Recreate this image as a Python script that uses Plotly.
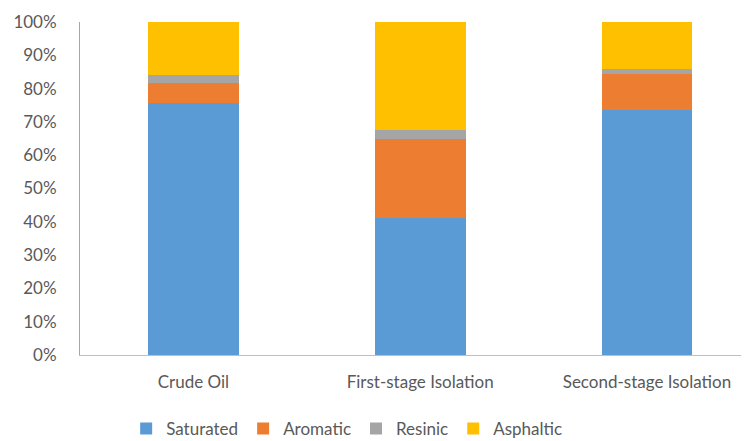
import plotly.graph_objects as go

categories = ["Crude Oil", "First-stage Isolation", "Second-stage Isolation"]
saturated = [75.7, 41.2, 73.5]
aromatic = [6.0, 23.7, 11.0]
resinic = [2.4, 2.6, 1.4]
asphaltic = [15.9, 32.5, 14.1]
series_names = ["Saturated", "Aromatic", "Resinic", "Asphaltic"]
colors = ["#5B9BD5", "#ED7D31", "#A5A5A5", "#FFC000"]
y_ticks = [0, 10, 20, 30, 40, 50, 60, 70, 80, 90, 100]

fig = go.Figure()
for name, vals, c in zip(series_names, [saturated, aromatic, resinic, asphaltic], colors):
    fig.add_trace(go.Bar(x=categories, y=vals, name=name, marker_color=c,
                         marker_line_width=0))

# page body has an 8px margin, so the figure is sized/offset to compensate
font = dict(family="Lato, 'Open Sans', sans-serif", size=17, color="#595959")
fig.update_layout(
    barmode="stack",
    bargap=0.6,
    width=741, height=433,
    margin=dict(l=72, r=0, t=14, b=86, autoexpand=False),
    paper_bgcolor="white", plot_bgcolor="white",
    font=font,
    showlegend=True,
    legend=dict(orientation="h", x=0.069, xanchor="left", y=-0.222, yanchor="middle",
                font=font, itemwidth=30, traceorder="normal", tracegroupgap=0),
    xaxis=dict(type="category", range=[-0.5, 2.45], showline=True, linecolor="#BFBFBF",
               linewidth=1, ticks="", showgrid=False, tickfont=font, automargin=False,
               ticklabelstandoff=12),
    yaxis=dict(range=[0, 100], tickvals=y_ticks, ticktext=[f"{v}%" for v in y_ticks],
               showline=True, linecolor="#A6A6A6", linewidth=1, showgrid=False,
               ticks="", zeroline=False, tickfont=font, automargin=False,
               ticklabelstandoff=19),
)
fig.write_html("out.html")
